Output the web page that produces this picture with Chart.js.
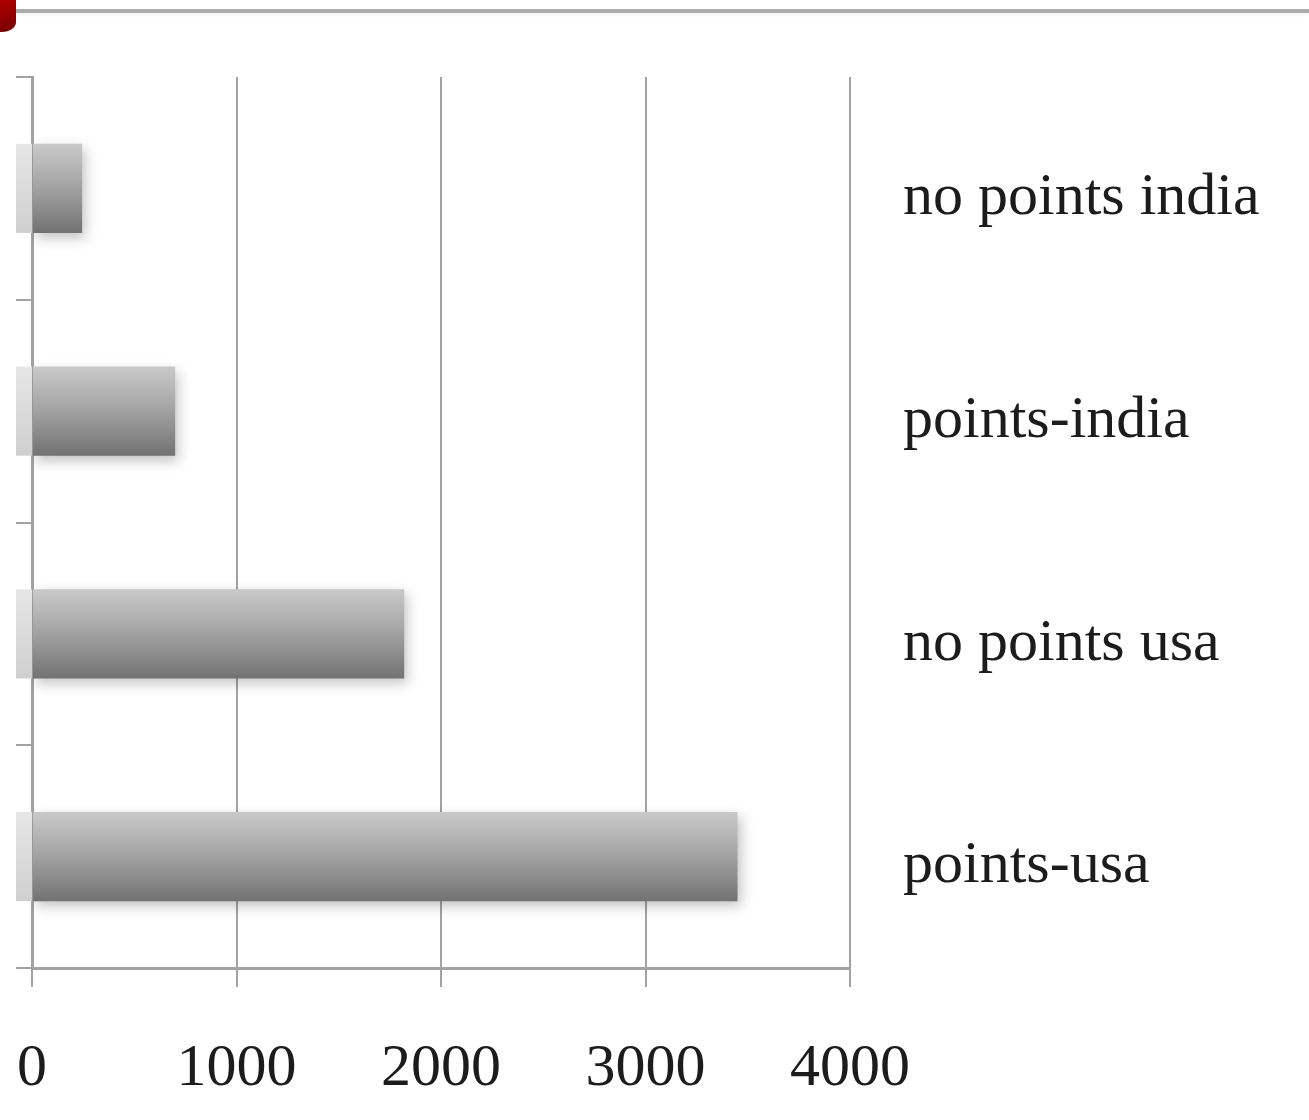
<!DOCTYPE html>
<html>
<head>
<meta charset="utf-8">
<script src="https://cdn.jsdelivr.net/npm/chart.js@4.4.1/dist/chart.umd.min.js"></script>
<style>
  html, body { margin: 0; padding: 0; background: #fff; }
  #wrap { position: relative; width: 1309px; height: 1120px; overflow: hidden; }
  #rule { position: absolute; left: 16px; right: 0; top: 9px; height: 4px; background: #acacac; box-shadow: 0 2px 3px rgba(0,0,0,0.06); }
  #badge { position: absolute; left: -14px; top: -12px; width: 30px; height: 44px; border-bottom-right-radius: 14px 10px; background: linear-gradient(160deg, #c40000 0%, #9a0000 60%, #6e0000 100%); }
  canvas { position: absolute; left: 0; top: 0; }
</style>
</head>
<body>
<div id="wrap">
  <div id="rule"></div>
  <div id="badge"></div>
  <canvas id="chart" width="1309" height="1120"></canvas>
</div>
<script>
// Categories, listed top to bottom
const categories = ['no points india', 'points-india', 'no points usa', 'points-usa'];
// Counts per category
const counts = [245, 700, 1820, 3450];
// Value axis tick labels
const xTicks = [0, 1000, 2000, 3000, 4000];

const serif = '"Liberation Serif", "Times New Roman", serif';
const gridGrey = '#a2a2a2';
const barShare = 0.4;

// Vertical shading for each bar: light on top, darker at the base
function barFill(ctx) {
  const chart = ctx.chart;
  const y = chart.scales && chart.scales.y;
  if (!y || ctx.dataIndex === undefined) return '#9a9a9a';
  const centre = y.getPixelForValue(ctx.dataIndex);
  const half = (y.height / categories.length) * barShare / 2;
  if (!isFinite(centre) || !isFinite(half) || half <= 0) return '#9a9a9a';
  const g = chart.ctx.createLinearGradient(0, centre - half, 0, centre + half);
  g.addColorStop(0, '#c9c9c9');
  g.addColorStop(0.45, '#a6a6a6');
  g.addColorStop(1, '#727272');
  return g;
}

// Soft drop shadow under the bars, plus a pale lip left of the axis line
const barShadow = {
  id: 'barShadow',
  beforeDatasetsDraw(chart) {
    const ctx = chart.ctx;
    const area = chart.chartArea;
    const meta = chart.getDatasetMeta(0);
    ctx.save();
    meta.data.forEach(bar => {
      const top = bar.y - bar.height / 2;
      if (!isFinite(top)) return;
      const g = ctx.createLinearGradient(0, top, 0, top + bar.height);
      g.addColorStop(0, '#e6e6e6');
      g.addColorStop(1, '#cfcfcf');
      ctx.fillStyle = g;
      ctx.fillRect(area.left - 16, top, 16, bar.height);
    });
    ctx.restore();
    ctx.save();
    ctx.shadowColor = 'rgba(0,0,0,0.24)';
    ctx.shadowBlur = 12;
    ctx.shadowOffsetX = 3;
    ctx.shadowOffsetY = 5;
  },
  afterDatasetsDraw(chart) {
    chart.ctx.restore();
  }
};

new Chart(document.getElementById('chart'), {
  type: 'bar',
  data: {
    labels: categories,
    datasets: [{
      data: counts,
      backgroundColor: barFill,
      borderWidth: 0,
      barPercentage: barShare,
      categoryPercentage: 1.0
    }]
  },
  options: {
    indexAxis: 'y',
    responsive: false,
    animation: false,
    events: [],
    layout: { padding: { left: 16, right: 0, top: 77, bottom: 0 } },
    plugins: {
      legend: { display: false },
      tooltip: { enabled: false }
    },
    scales: {
      x: {
        min: 0,
        max: 4000,
        afterBuildTicks(scale) { scale.ticks = xTicks.map(v => ({ value: v })); },
        afterFit(scale) {
          scale.height = 152;
          scale.paddingLeft = 0;
          scale.paddingRight = 0;
        },
        grid: {
          color: gridGrey,
          lineWidth: 2,
          drawTicks: true,
          tickLength: 19,
          tickColor: gridGrey
        },
        border: { display: true, color: gridGrey, width: 3 },
        ticks: {
          color: '#1c1c1c',
          font: { family: serif, size: 60 },
          padding: 46,
          maxRotation: 0,
          autoSkip: false,
          callback: v => String(v)
        }
      },
      y: {
        position: 'left',
        offset: true,
        afterFit(scale) {
          scale.width = 16;
          scale.paddingTop = 0;
          scale.paddingBottom = 0;
        },
        grid: {
          offset: true,
          drawOnChartArea: false,
          drawTicks: true,
          tickLength: 16,
          color: gridGrey,
          lineWidth: 2
        },
        border: { display: true, color: gridGrey, width: 3 },
        ticks: { display: false }
      },
      yLabels: {
        type: 'category',
        position: 'right',
        axis: 'y',
        labels: categories,
        offset: true,
        afterFit(scale) {
          scale.width = 459;
          scale.paddingTop = 0;
          scale.paddingBottom = 0;
        },
        grid: { display: false, drawTicks: false },
        border: { display: false },
        ticks: {
          color: '#1c1c1c',
          font: { family: serif, size: 60 },
          padding: 53,
          labelOffset: 10,
          crossAlign: 'near'
        }
      }
    }
  },
  plugins: [barShadow]
});
</script>
</body>
</html>
